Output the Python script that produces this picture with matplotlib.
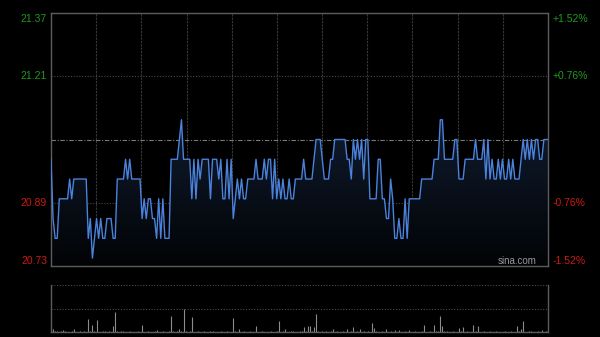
import numpy as np
import matplotlib.pyplot as plt
from matplotlib.colors import LinearSegmentedColormap

plt.rcParams['font.family'] = ['Liberation Sans', 'DejaVu Sans']

# intraday minute prices (241 minutes)
prev_close = 21.05
price = [
    21.00, 20.85, 20.80, 20.80, 20.90, 20.90, 20.90, 20.90, 20.90, 20.95,
    20.90, 20.95, 20.95, 20.95, 20.95, 20.95, 20.95, 20.95, 20.80, 20.85,
    20.75, 20.80, 20.85, 20.80, 20.85, 20.80, 20.80, 20.85, 20.85, 20.85,
    20.80, 20.80, 20.95, 20.95, 20.95, 20.95, 21.00, 20.95, 21.00, 20.95,
    20.95, 20.95, 20.95, 20.95, 20.85, 20.90, 20.85, 20.90, 20.90, 20.85,
    20.85, 20.80, 20.90, 20.80, 20.90, 20.80, 20.80, 20.80, 21.00, 21.00,
    21.00, 21.00, 21.05, 21.10, 21.00, 21.00, 21.00, 21.00, 20.90, 21.00,
    20.90, 21.00, 20.95, 21.00, 21.00, 21.00, 21.00, 20.90, 21.00, 21.00,
    21.00, 20.95, 21.00, 20.90, 20.90, 21.00, 20.90, 21.00, 20.85, 20.90,
    20.95, 20.90, 20.95, 20.90, 20.90, 20.95, 20.95, 20.95, 20.95, 21.00,
    20.95, 20.95, 20.95, 21.00, 20.95, 21.00, 21.00, 20.90, 21.00, 20.90,
    20.95, 20.90, 20.95, 20.90, 20.90, 20.95, 20.90, 20.90, 20.95, 20.95,
    20.95, 20.95, 21.00, 20.95, 20.95, 20.95, 20.95, 21.00, 21.05, 21.05,
    21.05, 21.00, 20.95, 20.95, 20.95, 21.00, 21.00, 21.05, 21.05, 21.05,
    21.05, 21.05, 21.05, 21.00, 21.00, 20.95, 21.05, 21.00, 21.05, 21.00,
    21.05, 20.95, 21.05, 21.05, 20.90, 20.90, 20.90, 20.90, 21.00, 21.00,
    20.90, 20.90, 20.85, 20.85, 20.95, 20.90, 20.80, 20.80, 20.85, 20.80,
    20.80, 20.90, 20.80, 20.90, 20.90, 20.90, 20.90, 20.90, 20.90, 20.95,
    20.95, 20.95, 20.95, 20.95, 20.95, 21.00, 21.00, 21.00, 21.10, 21.10,
    21.00, 21.00, 21.00, 21.00, 21.00, 21.05, 21.05, 20.95, 20.95, 20.95,
    21.00, 21.00, 21.00, 21.00, 21.00, 21.05, 21.00, 21.00, 21.00, 21.05,
    20.95, 21.05, 20.95, 21.00, 20.95, 20.95, 21.00, 20.95, 21.00, 20.95,
    20.95, 21.00, 20.95, 21.00, 20.95, 20.95, 20.95, 21.00, 21.05, 21.00,
    21.05, 21.00, 21.05, 21.00, 21.05, 21.05, 21.00, 21.00, 21.05, 21.05,
    21.05,
]

volume = [
    50, 30, 8, 6, 5, 7, 20, 6, 4, 5,
    6, 30, 5, 4, 6, 5, 7, 4, 130, 8,
    70, 6, 120, 5, 4, 15, 6, 5, 7, 4,
    60, 200, 8, 5, 6, 15, 4, 5, 6, 4,
    5, 4, 6, 5, 70, 4, 5, 6, 4, 5,
    6, 20, 4, 5, 6, 4, 5, 7, 160, 6,
    5, 8, 30, 6, 240, 7, 5, 6, 150, 5,
    4, 6, 5, 4, 6, 5, 4, 6, 15, 5,
    4, 5, 6, 4, 5, 6, 4, 5, 140, 6,
    5, 30, 4, 6, 5, 4, 6, 5, 4, 65,
    5, 4, 6, 5, 4, 5, 6, 4, 5, 6,
    110, 5, 6, 30, 4, 5, 6, 15, 4, 5,
    6, 8, 50, 6, 65, 60, 8, 50, 180, 6,
    5, 8, 4, 6, 5, 7, 30, 5, 6, 4,
    5, 6, 4, 30, 5, 6, 55, 4, 6, 35,
    5, 6, 4, 8, 5, 90, 40, 6, 5, 4,
    6, 5, 30, 4, 6, 5, 25, 4, 20, 5,
    4, 6, 5, 20, 4, 5, 6, 4, 5, 6,
    70, 5, 4, 6, 5, 70, 8, 6, 160, 65,
    8, 6, 5, 4, 6, 5, 4, 40, 6, 50,
    5, 6, 4, 5, 70, 6, 65, 5, 4, 6,
    5, 4, 6, 5, 4, 6, 5, 4, 5, 6,
    4, 5, 6, 4, 5, 60, 6, 30, 110, 5,
    4, 15, 6, 5, 4, 6, 5, 20, 4, 6,
    20,
]

left_labels = ['21.37', '21.21', '', '20.89', '20.73']
right_labels = ['+1.52%', '+0.76%', '', '-0.76%', '-1.52%']
levels = [21.37, 21.21, 21.05, 20.89, 20.73]

green = '#1f9a1f'
red = '#cc1a10'
grid_c = '#4a4a4a'
frame_c = '#5c5c5c'

fig = plt.figure(figsize=(6, 3.37), dpi=100, facecolor='black')
ax = fig.add_axes([51/600, 1-266/337, 497/600, 253/337])
axv = fig.add_axes([51/600, 1-332/337, 497/600, 47/337])

x = np.arange(len(price))
n = len(price) - 1

# price panel
ax.set_facecolor('black')
for k in range(1, 11):
    ax.axvline(n*k/11, color='#383838', lw=0.8, ls=(0, (2, 1)), zorder=1)
ax.axhline(21.21, color=grid_c, lw=0.8, ls=(0, (1, 1.5)), zorder=1)
ax.axhline(20.89, color=grid_c, lw=0.8, ls=(0, (1, 1.5)), zorder=1)
ax.axhline(prev_close, color='#7a7a7a', lw=0.8, ls=(0, (4, 1.5, 1, 1.5)), zorder=1)

poly = ax.fill_between(x, price, 20.73, color='none', lw=0)
grad = np.linspace(0, 1, 256).reshape(-1, 1)
cmap = LinearSegmentedColormap.from_list('fade', ['#020305', '#101c2f'])
im = ax.imshow(grad, extent=[0, n, 20.73, 21.10], origin='lower', aspect='auto',
               cmap=cmap, zorder=2)
im.set_clip_path(poly.get_paths()[0], transform=ax.transData)

ax.plot(x, price, color='#4a82dc', lw=1.0, zorder=3)

ax.set_xlim(0, n)
ax.set_ylim(20.73, 21.37)
ax.set_xticks([])
ax.set_yticks([])
for s in ax.spines.values():
    s.set_color(frame_c)
    s.set_linewidth(1.0)

px = 0.64 / 253
label_y = [21.37 - 6*px, 21.21, 21.05, 20.89, 20.73 + 5.5*px]
for lab, rlab, lv, yy in zip(left_labels, right_labels, levels, label_y):
    if lab == '':
        continue
    c = green if lv > prev_close else red
    ax.text(-0.008, yy, lab, color=c, fontsize=7.5, ha='right', va='center',
            transform=ax.get_yaxis_transform())
    ax.text(1.01, yy, rlab, color=c, fontsize=7.5, ha='left', va='center',
            transform=ax.get_yaxis_transform())

ax.text(0.938, 0.018, 'sina.com', color='#9a9a9a', fontsize=7, ha='center',
        va='center', transform=ax.transAxes, zorder=4)

# volume panel
axv.set_facecolor('black')
vmax = 480
axv.axhline(vmax, color=grid_c, lw=0.8, ls=(0, (1, 1.5)))
axv.axhline(vmax/2, color=grid_c, lw=0.8, ls=(0, (1, 1.5)))
axv.vlines(x, 0, volume, color='#8c8c8c', lw=0.8)
axv.set_xlim(0, n)
axv.set_ylim(0, vmax)
axv.set_xticks([])
axv.set_yticks([])
for side, s in axv.spines.items():
    s.set_color(frame_c)
    s.set_linewidth(1.0)
axv.spines['top'].set_visible(False)

fig.savefig('out.png', dpi=100, facecolor='black')
